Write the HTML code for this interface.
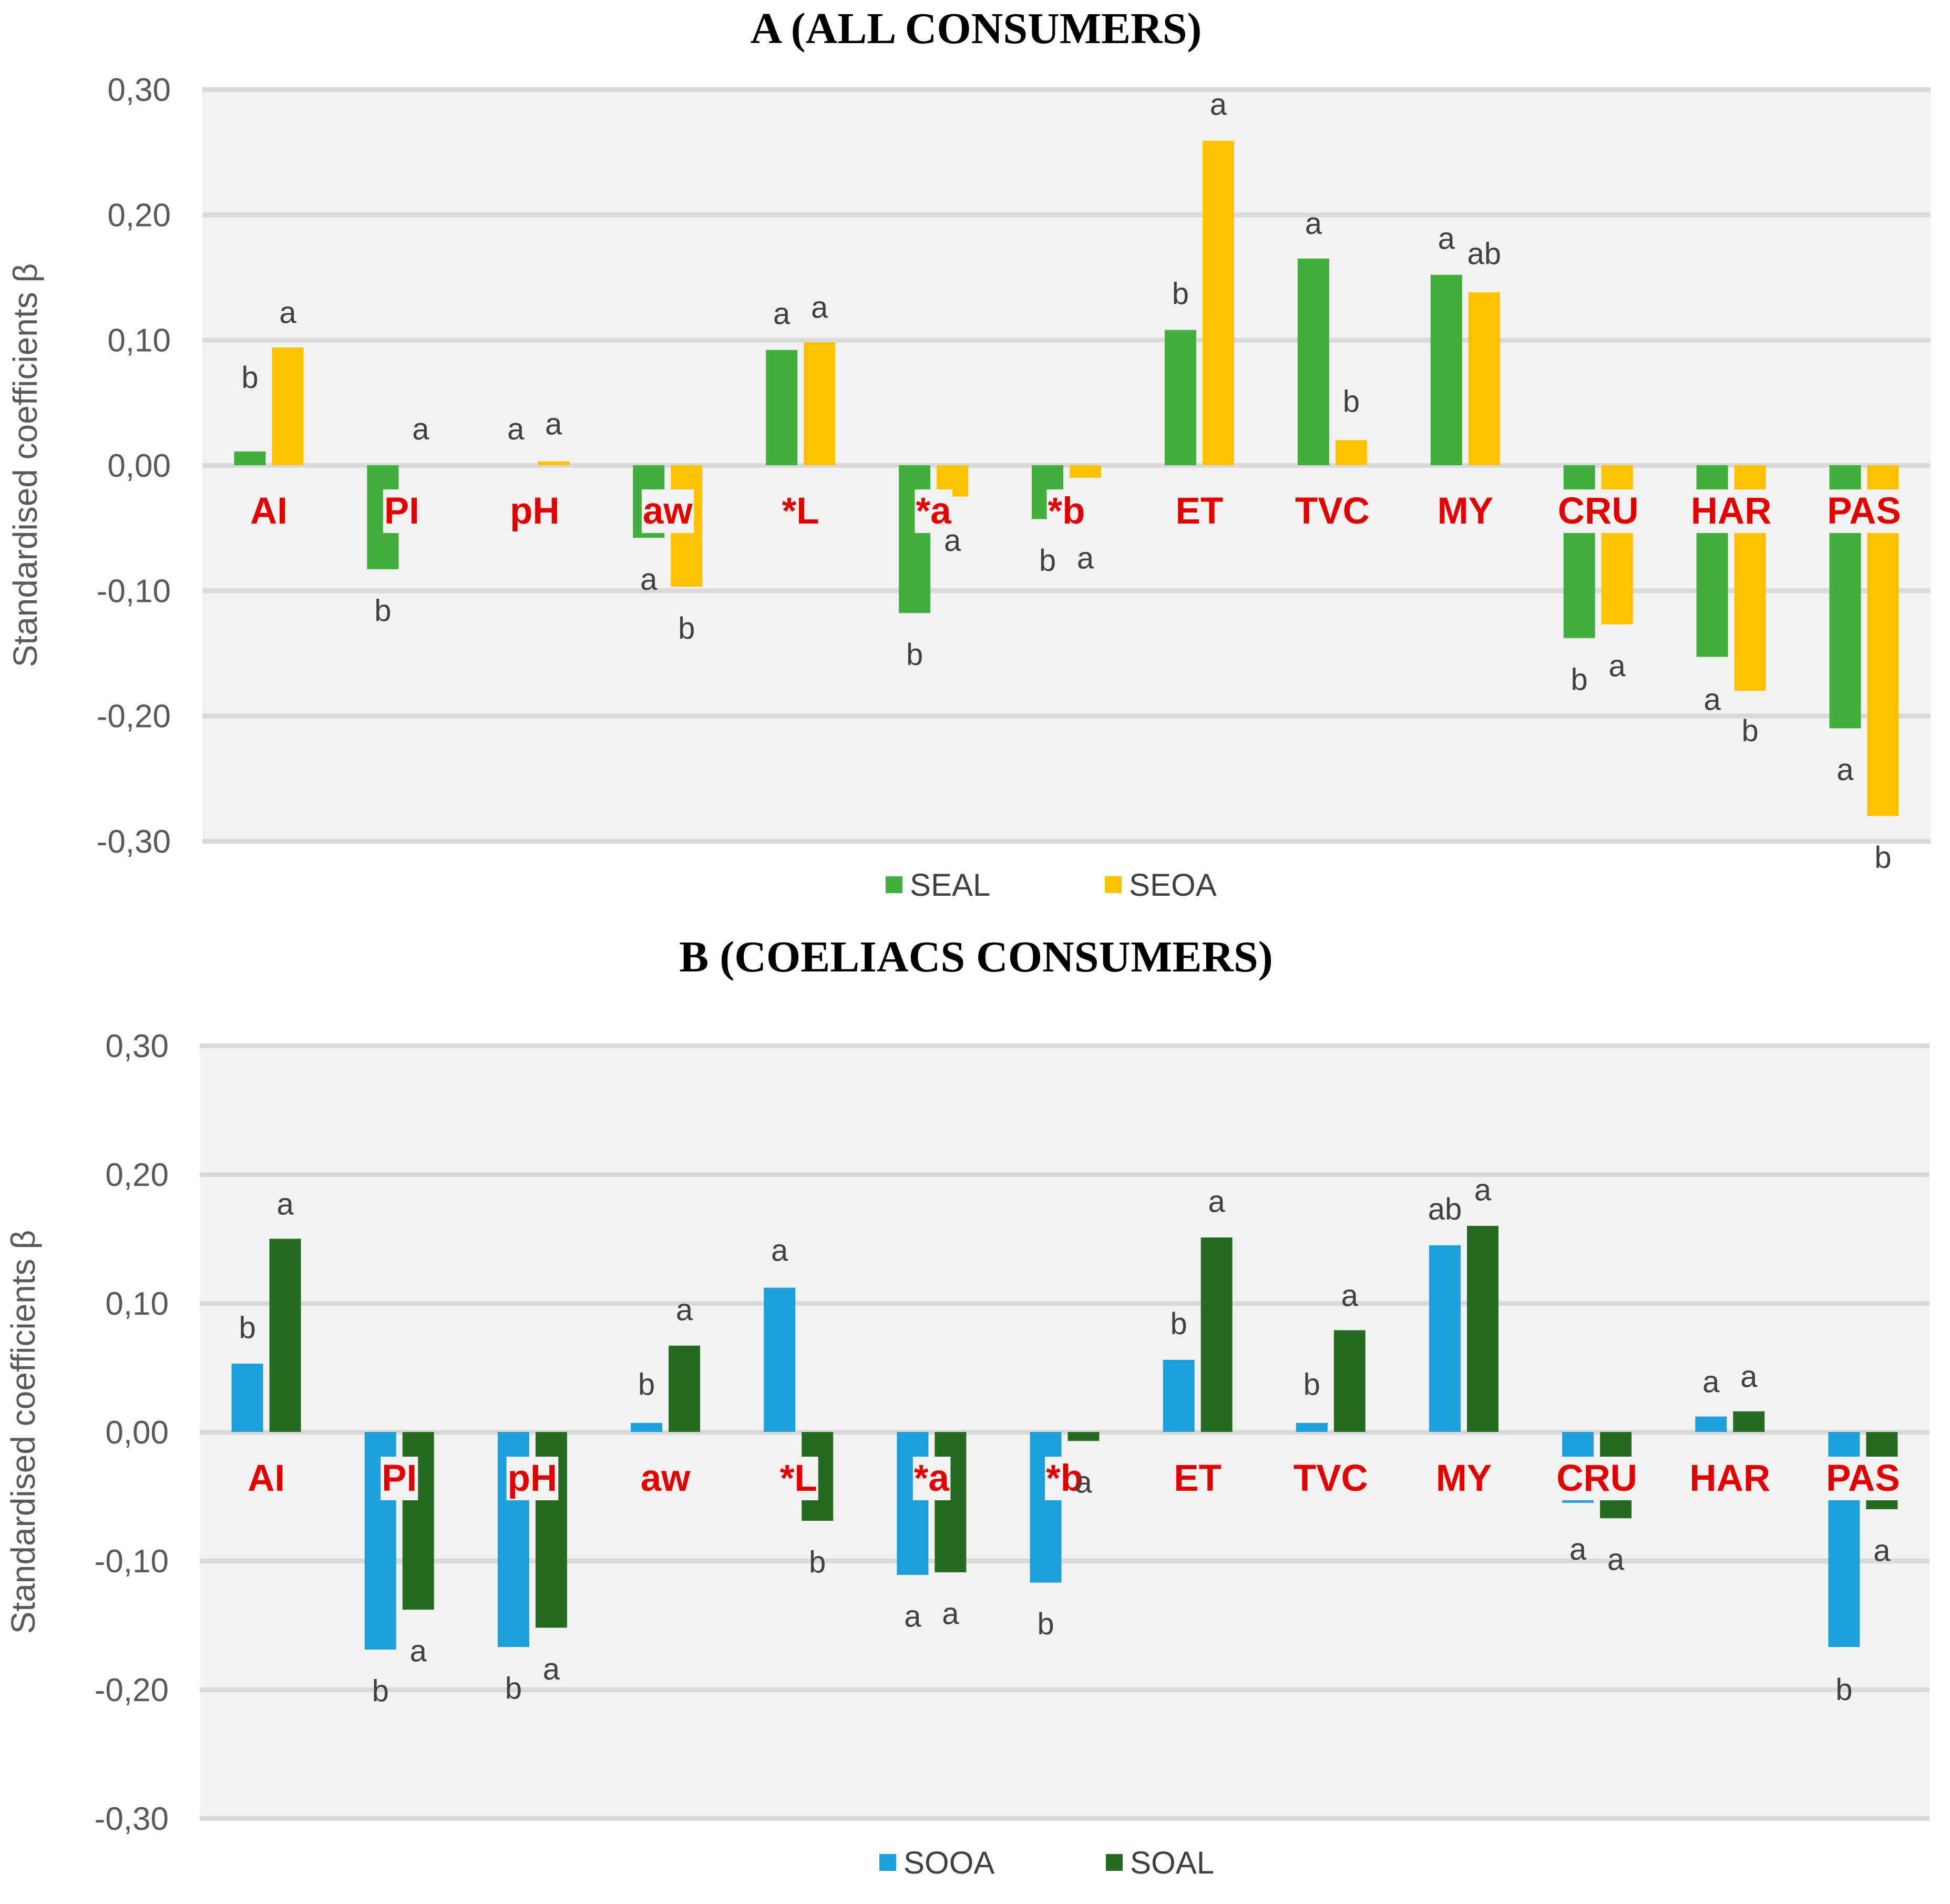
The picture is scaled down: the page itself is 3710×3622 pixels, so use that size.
<!DOCTYPE html>
<html><head><meta charset="utf-8"><style>
html,body{margin:0;padding:0;background:#fff;}
svg{display:block;}
</style></head><body>
<svg id="chart" width="3710" height="3622" viewBox="0 0 3710 3622" xmlns="http://www.w3.org/2000/svg" font-family="Liberation Sans, sans-serif"></svg>
<script>
const categories = ["AI","PI","pH","aw","*L","*a","*b","ET","TVC","MY","CRU","HAR","PAS"];
const ticks = [0.3,0.2,0.1,0,-0.1,-0.2,-0.3];
const tickLabels = ["0,30","0,20","0,10","0,00","-0,10","-0,20","-0,30"];
// Panel A
const sealValues = [0.011,-0.083,0,-0.058,0.092,-0.118,-0.043,0.108,0.165,0.152,-0.138,-0.153,-0.210];
const seoaValues = [0.094,0,0.003,-0.097,0.098,-0.025,-0.010,0.259,0.020,0.138,-0.127,-0.180,-0.280];
const sealLetters = ["b","b","a","a","a","b","b","b","a","a","b","a","a"];
const seoaLetters = ["a","a","a","b","a","a","a","a","b","ab","a","b","b"];
const sealLetterPos = [0.070,-0.116,0.029,-0.091,0.121,-0.151,-0.076,0.137,0.193,0.181,-0.171,-0.187,-0.243];
const seoaLetterPos = [0.122,0.029,0.033,-0.130,0.126,-0.060,-0.074,0.288,0.051,0.169,-0.160,-0.212,-0.313];
// Panel B
const sooaValues = [0.053,-0.169,-0.167,0.007,0.112,-0.111,-0.117,0.056,0.007,0.145,-0.055,0.012,-0.167];
const soalValues = [0.150,-0.138,-0.152,0.067,-0.069,-0.109,-0.007,0.151,0.079,0.160,-0.067,0.016,-0.060];
const sooaLetters = ["b","b","b","b","a","a","b","b","b","ab","a","a","b"];
const soalLetters = ["a","a","a","a","b","a","a","a","a","a","a","a","a"];
const sooaLetterPos = [0.081,-0.201,-0.199,0.037,0.141,-0.143,-0.149,0.084,0.037,0.173,-0.091,0.039,-0.200];
const soalLetterPos = [0.177,-0.170,-0.184,0.095,-0.101,-0.141,-0.039,0.179,0.106,0.188,-0.099,0.043,-0.092];

const NS="http://www.w3.org/2000/svg";
const svg=document.getElementById('chart');
function mk(tag,attrs,parent){const e=document.createElementNS(NS,tag);for(const k in attrs)e.setAttribute(k,attrs[k]);(parent||svg).appendChild(e);return e;}

function panel(p){
  const g=mk('g',{});
  
  
  const y=v=>p.zeroY-(v*p.unit);
  const x=i=>p.left+(i+0.5)*(p.right-p.left)/categories.length;
  const bg=mk('rect',{x:p.left,y:y(0.3),width:p.right-p.left,height:y(-0.3)-y(0.3),fill:'#f2f2f2'},g);
  
  
  ticks.forEach((t,i)=>{
    const l=mk('rect',{x:p.left,y:y(t)-4,width:p.right-p.left,height:9,fill:'#d9d9d9'},g);
    
    
    const tx=mk('text',{x:p.tickX,y:y(t)+22,'text-anchor':'end','font-size':62,fill:'#595959'},g);
    tx.textContent=tickLabels[i];
    
    
  });
  const t=mk('text',{x:0,y:0,transform:`translate(${p.titleX},${(y(0.3)+y(-0.3))/2}) rotate(-90)`,'text-anchor':'middle','font-size':64,fill:'#595959'},g);
  t.textContent='Standardised coefficients β';
  
  
  const series=[[p.v1,p.c1,-1,p.n1],[p.v2,p.c2,1,p.n2]];
  series.forEach(([vals,col,side,name])=>{
    vals.forEach((v,i)=>{
      const cx=x(i)+side*36;
      const y0=Math.min(y(0),y(v)),h=Math.abs(y(v)-y(0));
      if(h<0.5)return;
      const r=mk('rect',{x:cx-30,y:y0,width:60,height:h,fill:col},g);
      
      
    });
  });
  categories.forEach((c,i)=>{
    const tx=mk('text',{x:x(i),y:p.labelY,'text-anchor':'middle','font-size':71,'font-weight':'bold',fill:'#e00000'},g);
    tx.textContent=c;
    
    
    const bb=tx.getBBox();
    const br=mk('rect',{x:bb.x-2,y:bb.y-2,width:bb.width+4,height:bb.height+4,fill:'#f2f2f2'},g);
    
    
    g.insertBefore(br,tx);
  });
  [[p.l1,p.lp1,-1],[p.l2,p.lp2,1]].forEach(([lets,pos,side])=>{
    lets.forEach((s,i)=>{
      const tx=mk('text',{x:x(i)+side*36,y:y(pos[i])+20,'text-anchor':'middle','font-size':58,fill:'#404040'},g);
      tx.textContent=s;
      
      
    });
  });
  const ti=mk('text',{x:1857,y:p.titleY,'text-anchor':'middle','font-size':84,'font-weight':'bold','font-family':'Liberation Serif, serif',fill:'#000'},g);
  ti.textContent=p.title;
  
  
  [[p.n1,p.c1,p.lg1],[p.n2,p.c2,p.lg2]].forEach(([n,c,lx])=>{
    const s=mk('rect',{x:lx,y:p.legY-16,width:32,height:32,fill:c},g);
    
    
    const tx=mk('text',{x:lx+46,y:p.legY+21,'font-size':60,fill:'#404040'},g);
    tx.textContent=n;
    
    
  });
}
panel({id:'a',title:'A (ALL CONSUMERS)',titleY:82,left:385,right:3673,zeroY:885,unit:2383,tickX:325,titleX:70,labelY:996,
  v1:sealValues,v2:seoaValues,c1:'#42ae3c',c2:'#ffc000',n1:'SEAL',n2:'SEOA',l1:sealLetters,l2:seoaLetters,lp1:sealLetterPos,lp2:seoaLetterPos,
  legY:1683,lg1:1685,lg2:2102});
panel({id:'b',title:'B (COELIACS CONSUMERS)',titleY:1848,left:380,right:3671,zeroY:2724,unit:2450,tickX:321,titleX:66,labelY:2836,
  v1:sooaValues,v2:soalValues,c1:'#1f9fda',c2:'#266b24',n1:'SOOA',n2:'SOAL',l1:sooaLetters,l2:soalLetters,lp1:sooaLetterPos,lp2:soalLetterPos,
  legY:3543,lg1:1673,lg2:2104});
</script>
</body></html>
